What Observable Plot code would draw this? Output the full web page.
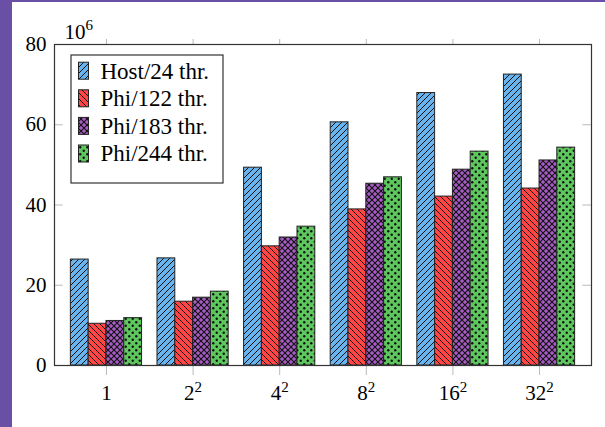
<!DOCTYPE html>
<html>
<head>
<meta charset="utf-8">
<script src="https://cdn.jsdelivr.net/npm/d3@7"></script>
<script src="https://cdn.jsdelivr.net/npm/@observablehq/plot@0.6"></script>
<style>
  html, body { margin: 0; padding: 0; background: #6A4FA6; }
  #wrap { position: absolute; left: 12px; top: 2px; width: 593px; height: 425px; background: #fff; }
  svg { display: block; }
  svg text { font-family: 'Liberation Serif', 'DejaVu Serif', serif !important; }
</style>
</head>
<body>
<div id="wrap"></div>
<script>
const categories = ["1", "2^2", "4^2", "8^2", "16^2", "32^2"];
const seriesNames = ["Host/24 thr.", "Phi/122 thr.", "Phi/183 thr.", "Phi/244 thr."];
const host24  = [26.4, 26.7, 49.3, 60.6, 67.9, 72.5];
const phi122  = [10.4, 15.9, 29.7, 38.9, 42.1, 44.1];
const phi183  = [11.1, 16.9, 31.9, 45.3, 48.8, 51.1];
const phi244  = [11.8, 18.4, 34.6, 46.9, 53.3, 54.3];
const yTicks = [0, 20, 40, 60, 80];

const seriesValues = [host24, phi122, phi183, phi244];
const patternIds = ["pat-host", "pat-p122", "pat-p183", "pat-p244"];
const groupWidth = 0.822;
const barW = groupWidth / seriesNames.length;
const xDomain = [-0.6, categories.length - 1 + 0.6];

const table = [];
seriesValues.forEach((vals, j) => {
  vals.forEach((v, i) => {
    table.push({cat: i, series: seriesNames[j], j, value: v,
      x1: i - groupWidth / 2 + j * barW, x2: i - groupWidth / 2 + (j + 1) * barW});
  });
});

const tickLen = 0.1;
const FS = 21;
const FONT = "'Liberation Serif', 'DejaVu Serif', serif";
const plot = Plot.plot({
  width: 593,
  height: 425,
  marginLeft: 42,
  marginRight: 14,
  marginTop: 42,
  marginBottom: 62,
  style: {fontFamily: FONT, fontSize: FS + "px", color: "#000", background: "transparent"},
  x: {domain: xDomain},
  y: {domain: [0, 80]},
  color: {type: "ordinal", domain: seriesNames, range: patternIds.map(id => `url(#${id})`)},
  marks: [
    Plot.rectY(table, {x1: "x1", x2: "x2", y1: 0, y2: "value", fill: "series", stroke: "#222", strokeWidth: 1}),
    Plot.ruleY(yTicks.slice(1, -1), {x1: xDomain[0], x2: xDomain[0] + tickLen, stroke: "#bbb"}),
    Plot.ruleY(yTicks.slice(1, -1), {x1: xDomain[1] - tickLen, x2: xDomain[1], stroke: "#bbb"}),
    Plot.axisY({ticks: yTicks, tickSize: 0, tickPadding: 8, label: null, fontSize: FS}),
    Plot.axisX({anchor: "bottom", ticks: d3.range(categories.length), tickSize: 10, tickPadding: 10,
      tickFormat: i => categories[i], stroke: "#bbb", label: null, fontSize: FS}),
    Plot.axisX({anchor: "top", ticks: d3.range(categories.length), tickSize: 6, stroke: "#bbb", text: null, label: null}),
    Plot.text(["10^6"], {frameAnchor: "top-left", dx: 10, dy: -6, textAnchor: "start", fontSize: FS, lineAnchor: "bottom"}),
    Plot.frame({stroke: "#333", strokeWidth: 1.2})
  ]
});

const svg = d3.select(plot);
const defs = svg.insert("defs", ":first-child");
function linePattern(id, color, dir) {
  const s = 6;
  const p = defs.append("pattern").attr("id", id).attr("patternUnits", "userSpaceOnUse")
    .attr("width", s).attr("height", s);
  p.append("rect").attr("width", s).attr("height", s).attr("fill", color);
  const d = dir > 0
    ? `M0,${s} L${s},0 M${-s/2},${s/2} L${s/2},${-s/2} M${s/2},${s*1.5} L${s*1.5},${s/2}`
    : `M0,0 L${s},${s} M${-s/2},${s/2} L${s/2},${s*1.5} M${s/2},${-s/2} L${s*1.5},${s/2}`;
  p.append("path").attr("d", d).attr("stroke", "#111").attr("stroke-width", 1).attr("fill", "none");
}
linePattern("pat-host", "#68B4EE", 1);
linePattern("pat-p122", "#FF4545", -1);
{
  const s = 6;
  const p = defs.append("pattern").attr("id", "pat-p183").attr("patternUnits", "userSpaceOnUse")
    .attr("width", s).attr("height", s);
  p.append("rect").attr("width", s).attr("height", s).attr("fill", "#A75BC4");
  p.append("path").attr("d", `M0,${s} L${s},0 M0,0 L${s},${s}`).attr("stroke", "#111").attr("stroke-width", 1.1).attr("fill", "none");
}
{
  const s = 7;
  const p = defs.append("pattern").attr("id", "pat-p244").attr("patternUnits", "userSpaceOnUse")
    .attr("width", s).attr("height", s);
  p.append("rect").attr("width", s).attr("height", s).attr("fill", "#5DC75D");
  p.append("circle").attr("cx", 1.75).attr("cy", 1.75).attr("r", 1.2).attr("fill", "#111");
  p.append("circle").attr("cx", 5.25).attr("cy", 5.25).attr("r", 1.2).attr("fill", "#111");
}

// superscripts
svg.selectAll("text").each(function() {
  const t = d3.select(this);
  const targets = t.selectAll("tspan").size() ? t.selectAll("tspan") : t;
  targets.each(function() {
    const el = d3.select(this);
    const s = el.text();
    if (s.includes("^")) {
      const [base, sup] = s.split("^");
      el.text(base);
      el.append("tspan").attr("font-size", 15).attr("dy", "-0.55em").text(sup);
    }
  });
});

// legend
const LFS = 23;
const lg = svg.append("g").attr("font-size", LFS).attr("text-anchor", "start");
const lx = 59, ly = 53, lw = 152, lh = 128;
lg.append("rect").attr("x", lx).attr("y", ly).attr("width", lw).attr("height", lh)
  .attr("fill", "#fff").attr("stroke", "#333").attr("stroke-width", 1.2);
seriesNames.forEach((name, j) => {
  const cy = ly + 15.7 + j * 27.6;
  lg.append("rect").attr("x", lx + 7.5).attr("y", cy - 8.5).attr("width", 10).attr("height", 17)
    .attr("fill", `url(#${patternIds[j]})`).attr("stroke", "#222");
  lg.append("text").attr("x", lx + 29.5).attr("y", cy).attr("dy", "0.34em").attr("fill", "#000")
    .attr("text-anchor", "start").style("font-size", LFS + "px").text(name);
});

document.getElementById("wrap").appendChild(plot);
</script>
</body>
</html>
